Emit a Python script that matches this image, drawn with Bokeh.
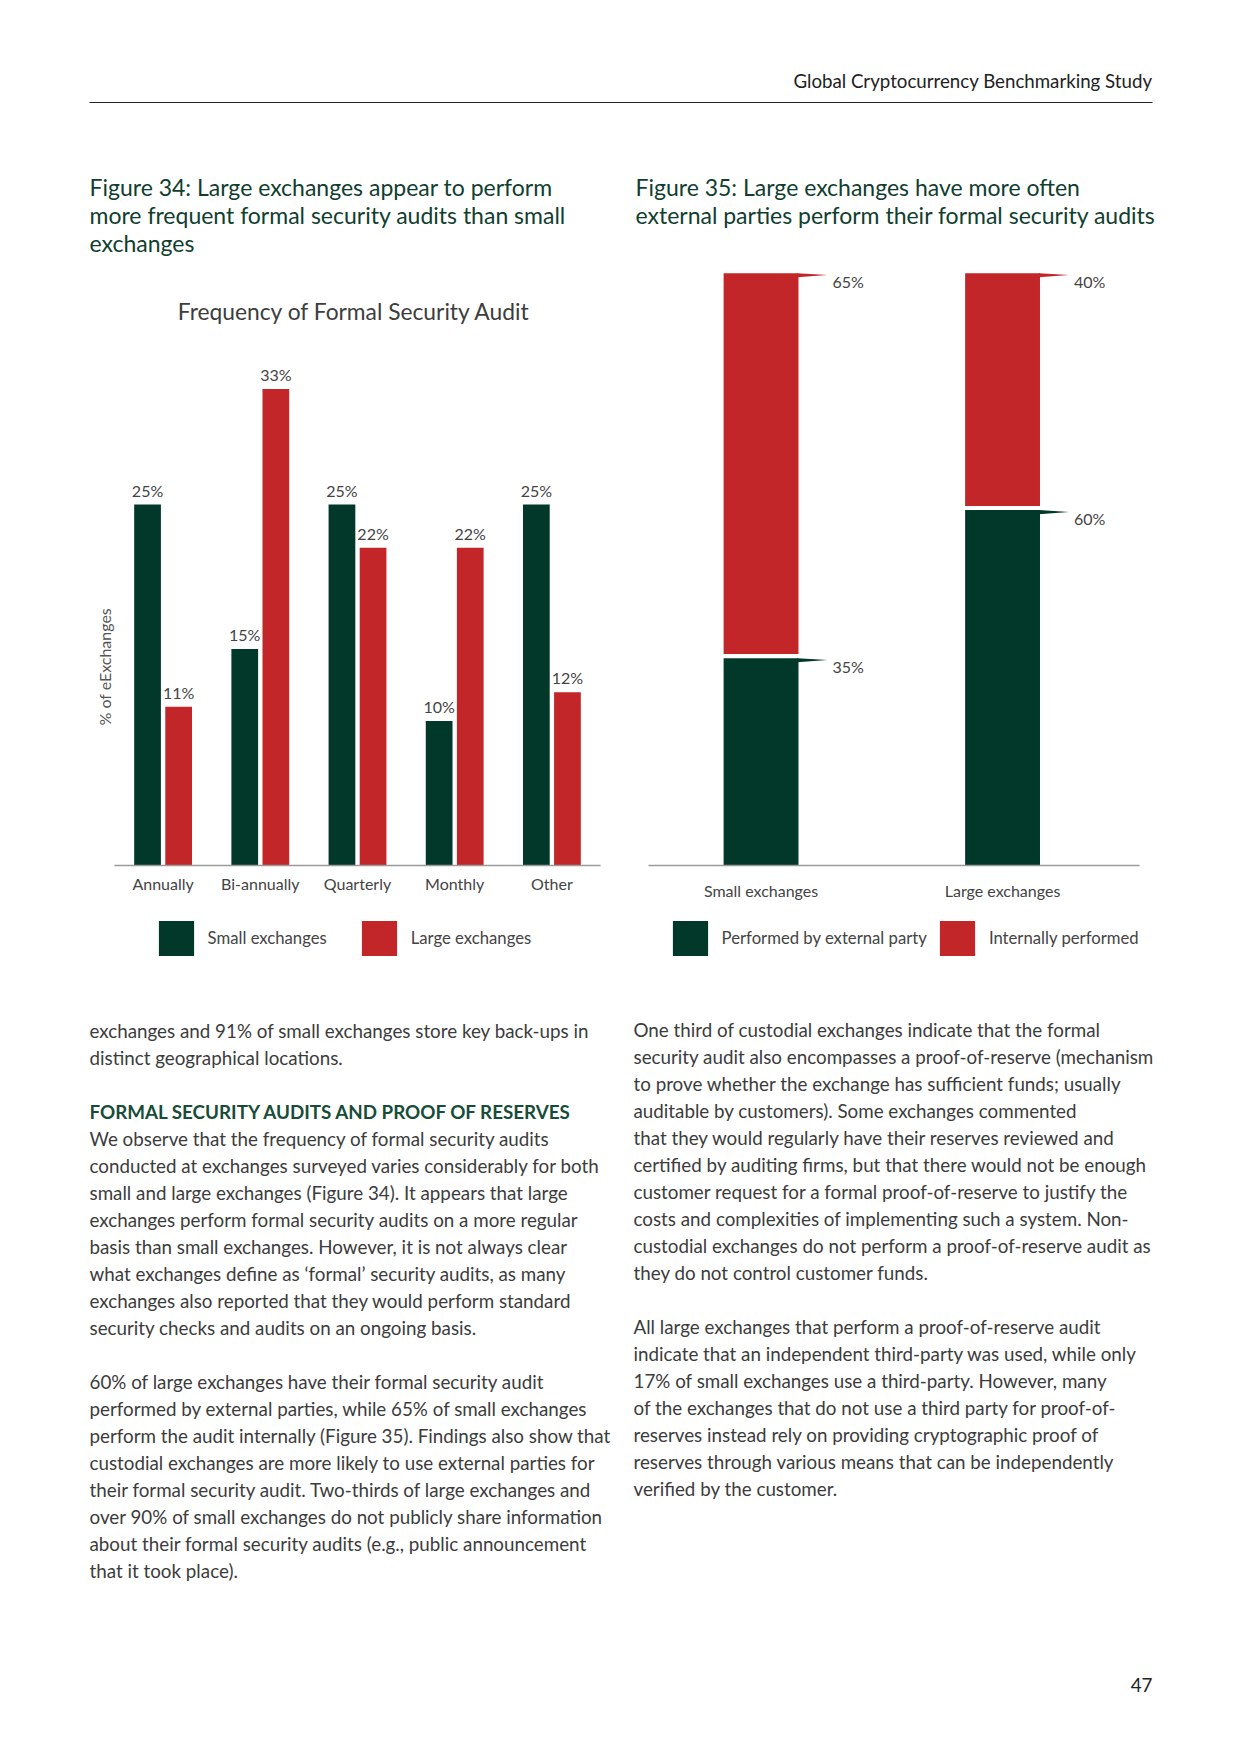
import math
from bokeh.plotting import figure
from bokeh.models import (Range1d, FactorRange, Legend, LegendItem, Title,
                          FixedTicker, ColumnDataSource)
from bokeh.transform import dodge
from bokeh.layouts import column, row
from bokeh.embed import file_html
from bokeh.resources import INLINE
from bokeh.core.properties import value

FONT = "Lato"
GREEN = "#02382a"
RED = "#c22628"
TITLE_GREEN = "#103e2f"
HEAD_GREEN = "#174c38"
TEXT = "#3c3c3c"
LABEL = "#444444"

# ---------------- data ----------------
# Figure 34
frequencies = ["Annually", "Bi-annually", "Quarterly", "Monthly", "Other"]
small_freq = [25, 15, 25, 10, 25]
large_freq = [11, 33, 22, 22, 12]
freq_series = ["Small exchanges", "Large exchanges"]

# Figure 35
size_groups = ["Small exchanges", "Large exchanges"]
external = [35, 60]
internal = [65, 40]
audit_series = ["Performed by external party", "Internally performed"]

header_text = "Global Cryptocurrency Benchmarking Study"
fig34_title = ["Figure 34: Large exchanges appear to perform",
               "more frequent formal security audits than small",
               "exchanges"]
fig35_title = ["Figure 35: Large exchanges have more often",
               "external parties perform their formal security audits"]
chart34_title = "Frequency of Formal Security Audit"
chart34_ylabel = "% of eExchanges"

left_col = [
    "exchanges and 91% of small exchanges store key back-ups in",
    "distinct geographical locations.",
    "",
    "FORMAL SECURITY AUDITS AND PROOF OF RESERVES",
    "We observe that the frequency of formal security audits",
    "conducted at exchanges surveyed varies considerably for both",
    "small and large exchanges (Figure 34). It appears that large",
    "exchanges perform formal security audits on a more regular",
    "basis than small exchanges. However, it is not always clear",
    "what exchanges define as \u2018formal\u2019 security audits, as many",
    "exchanges also reported that they would perform standard",
    "security checks and audits on an ongoing basis.",
    "",
    "60% of large exchanges have their formal security audit",
    "performed by external parties, while 65% of small exchanges",
    "perform the audit internally (Figure 35). Findings also show that",
    "custodial exchanges are more likely to use external parties for",
    "their formal security audit. Two-thirds of large exchanges and",
    "over 90% of small exchanges do not publicly share information",
    "about their formal security audits (e.g., public announcement",
    "that it took place).",
]
heading_index = 3
right_col = [
    "One third of custodial exchanges indicate that the formal",
    "security audit also encompasses a proof-of-reserve (mechanism",
    "to prove whether the exchange has sufficient funds; usually",
    "auditable by customers). Some exchanges commented",
    "that they would regularly have their reserves reviewed and",
    "certified by auditing firms, but that there would not be enough",
    "customer request for a formal proof-of-reserve to justify the",
    "costs and complexities of implementing such a system. Non-",
    "custodial exchanges do not perform a proof-of-reserve audit as",
    "they do not control customer funds.",
    "",
    "All large exchanges that perform a proof-of-reserve audit",
    "indicate that an independent third-party was used, while only",
    "17% of small exchanges use a third-party. However, many",
    "of the exchanges that do not use a third party for proof-of-",
    "reserves instead rely on providing cryptographic proof of",
    "reserves through various means that can be independently",
    "verified by the customer.",
]
page_number = "47"


def blank_fig(width, height, y0, y1):
    p = figure(width=width, height=height, x_range=Range1d(0, width),
               y_range=Range1d(y1, y0), output_backend="svg",
               toolbar_location=None, x_axis_location=None,
               y_axis_location=None)
    p.min_border = 0
    p.outline_line_color = None
    p.grid.visible = False
    return p


# ---------------- header (page y 0..262) ----------------
p0 = blank_fig(1224, 262, 0, 262)
p0.text(x=[1152], y=[80.5], text=[header_text], text_align="right",
        text_baseline="middle", text_font=value(FONT),
        text_font_size="18.7px", text_color="#222222")
p0.segment(x0=[89], y0=[102], x1=[1152], y1=[102], line_color="#222222",
           line_width=1)
p0.text(x=[89] * len(fig34_title), y=[186 + 28 * i for i in range(len(fig34_title))],
        text=fig34_title, text_align="left", text_baseline="middle",
        text_font=value(FONT), text_font_size="23px", text_color=TITLE_GREEN)
p0.text(x=[635] * len(fig35_title), y=[186 + 28 * i for i in range(len(fig35_title))],
        text=fig35_title, text_align="left", text_baseline="middle",
        text_font=value(FONT), text_font_size="23px", text_color=TITLE_GREEN)

# common frame for both charts: page y 266 .. 865 ; figures span 262 .. 905
FTOP, FBOT = 4, 40
CH_H = 643

# ---------------- Figure 34 ----------------
px_per_pct1 = 14.44
p1 = figure(width=612, height=CH_H,
            x_range=FactorRange(factors=frequencies, range_padding=0),
            y_range=Range1d(0, 599 / px_per_pct1), output_backend="svg",
            toolbar_location=None, y_axis_location=None)
p1.min_border_left = 114
p1.min_border_right = 12
p1.min_border_top = FTOP
p1.min_border_bottom = FBOT
p1.outline_line_color = None
p1.grid.visible = False

src1 = ColumnDataSource(dict(
    cat=frequencies, small=small_freq, large=large_freq,
    small_lbl=[f"{v}%" for v in small_freq],
    large_lbl=[f"{v}%" for v in large_freq]))
off = 0.16
bw = 0.275
r_small = p1.vbar(x=dodge("cat", -off, range=p1.x_range), top="small",
                  width=bw, source=src1, fill_color=GREEN, line_color=None)
r_large = p1.vbar(x=dodge("cat", off, range=p1.x_range), top="large",
                  width=bw, source=src1, fill_color=RED, line_color=None)
for col, lbl, dx in (("small", "small_lbl", -off), ("large", "large_lbl", off)):
    p1.text(x=dodge("cat", dx, range=p1.x_range), y=col, text=lbl,
            source=src1, text_align="center", text_baseline="bottom",
            y_offset=-5, text_font=value(FONT), text_font_size="16px",
            text_color=LABEL)

# chart title (inside the shared frame)
p1.text(x=[len(frequencies) / 2 - 0.033], y=[(865 - 310) / px_per_pct1],
        text=[chart34_title], text_align="center", text_baseline="middle",
        text_font=value(FONT), text_font_size="22.8px", text_color="#3d3d3d")

ax = p1.xaxis[0]
ax.axis_line_color = "#9a9a9a"
ax.axis_line_width = 1.5
ax.major_tick_line_color = None
ax.minor_tick_line_color = None
ax.major_tick_out = 0
ax.major_tick_in = 0
ax.major_label_text_font = FONT
ax.major_label_text_font_size = "16px"
ax.major_label_text_color = LABEL
ax.major_label_standoff = 8

ytitle = Title(text=chart34_ylabel, align="left", offset=140, standoff=2,
               text_font=FONT, text_font_size="16px", text_font_style="normal",
               text_color="#555555")
p1.add_layout(ytitle, "left")

# ---------------- Figure 35 ----------------
px_per_pct2 = (865 - 272.7) / 100
p2 = figure(width=612, height=CH_H, x_range=Range1d(-0.466, 1.567),
            y_range=Range1d(0, 599 / px_per_pct2), output_backend="svg",
            toolbar_location=None, y_axis_location=None)
p2.min_border_left = 36
p2.min_border_right = 85
p2.min_border_top = FTOP
p2.min_border_bottom = FBOT
p2.outline_line_color = None
p2.grid.visible = False

xs = list(range(len(size_groups)))
totals = [e + i for e, i in zip(external, internal)]
gap = 0.7
w2 = 0.31
src2 = ColumnDataSource(dict(x=xs, ext=external, tot=totals,
                             ib=[e + gap for e in external]))
r_ext = p2.vbar(x="x", top="ext", bottom=0, width=w2, source=src2,
                fill_color=GREEN, line_color=None)
r_int = p2.vbar(x="x", top="tot", bottom="ib", width=w2, source=src2,
                fill_color=RED, line_color=None)

# callout wedges and value labels at each segment top
wedge_len = 0.12
wx, wy, wc, lx, ly, lt = [], [], [], [], [], []
for i, xc in enumerate(xs):
    xr = xc + w2 / 2
    for top, val, colr in ((external[i], external[i], GREEN),
                           (totals[i], internal[i], RED)):
        wx.append([xr - 0.005, xr + wedge_len, xr - 0.005])
        wy.append([top, top - 0.3, top - 0.7])
        wc.append(colr)
        lx.append(xr + wedge_len)
        ly.append(top)
        lt.append(f"{val}%")
p2.patches(xs=wx, ys=wy, fill_color=wc, line_color=None)
p2.text(x=lx, y=ly, text=lt, x_offset=5, y_offset=8, text_align="left",
        text_baseline="middle", text_font=value(FONT),
        text_font_size="16px", text_color=LABEL)

ax2 = p2.xaxis[0]
ax2.ticker = FixedTicker(ticks=xs)
ax2.major_label_overrides = {x: g for x, g in zip(xs, size_groups)}
ax2.axis_line_color = "#9a9a9a"
ax2.axis_line_width = 1.5
ax2.major_tick_line_color = None
ax2.minor_tick_line_color = None
ax2.major_tick_out = 0
ax2.major_tick_in = 0
ax2.major_label_text_font = FONT
ax2.major_label_text_font_size = "16px"
ax2.major_label_text_color = LABEL
ax2.major_label_standoff = 15

# ---------------- legends (page y 905..990) ----------------
pl = blank_fig(1224, 85, 905, 990)
leg_colors = [GREEN, RED]
# off-screen proxies that carry the legend swatches
proxy1 = [pl.vbar(x=[-100], top=[950], bottom=[950], width=1,
                  fill_color=c, line_color=None) for c in leg_colors]
proxy2 = [pl.vbar(x=[-100], top=[950], bottom=[950], width=1,
                  fill_color=c, line_color=None) for c in leg_colors]


def make_legend(labels, rends, loc, spacing):
    return Legend(items=[LegendItem(label=l, renderers=[r])
                         for l, r in zip(labels, rends)],
                  orientation="horizontal", location=loc,
                  glyph_width=44, glyph_height=44, label_standoff=10,
                  spacing=spacing, padding=0, margin=0,
                  border_line_color=None, background_fill_alpha=0,
                  label_text_font=FONT, label_text_font_size="16.7px",
                  label_text_color=LABEL)


pl.add_layout(make_legend(freq_series, proxy1, (153.6, 30.4), 30))
pl.add_layout(make_legend(audit_series, proxy2, (667.6, 30.4), 8))

# ---------------- body text (page y 990..1738) ----------------
p3 = blank_fig(1224, 748, 990, 1738)
lh = 27
BODY = "18.8px"
ly_left = [1030 + lh * k for k in range(len(left_col))]
norm_idx = [k for k, t in enumerate(left_col) if t and k != heading_index]
p3.text(x=[89] * len(norm_idx), y=[ly_left[k] for k in norm_idx],
        text=[left_col[k] for k in norm_idx], text_align="left",
        text_baseline="middle", text_font=value(FONT),
        text_font_size=BODY, text_color=TEXT)
p3.text(x=[89], y=[ly_left[heading_index]], text=[left_col[heading_index]],
        text_align="left", text_baseline="middle", text_font=value(FONT),
        text_font_size=BODY, text_font_style="bold", text_color=HEAD_GREEN)
r_idx = [k for k, t in enumerate(right_col) if t]
p3.text(x=[633] * len(r_idx), y=[1029 + lh * k for k in r_idx],
        text=[right_col[k] for k in r_idx], text_align="left",
        text_baseline="middle", text_font=value(FONT),
        text_font_size=BODY, text_color=TEXT)
p3.text(x=[1152], y=[1684], text=[page_number], text_align="right",
        text_baseline="middle", text_font=value(FONT),
        text_font_size="18.8px", text_color="#222222")

layout = column(p0, row(p1, p2), pl, p3)
open("out.html", "w").write(file_html(layout, INLINE))
